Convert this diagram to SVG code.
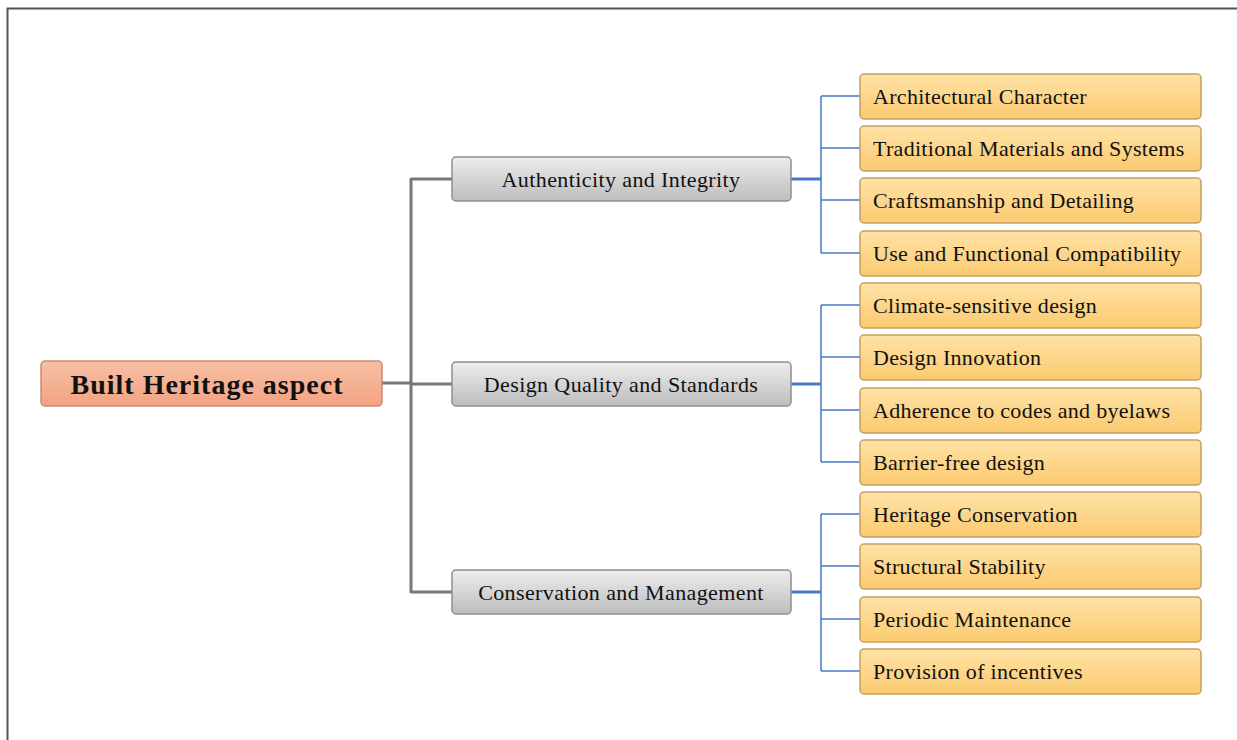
<svg xmlns="http://www.w3.org/2000/svg" width="1237" height="740" viewBox="0 0 1237 740">
<defs>
<linearGradient id="gRoot" x1="0" y1="0" x2="0" y2="1"><stop offset="0" stop-color="#F8C0A6"/><stop offset="1" stop-color="#F3A282"/></linearGradient>
<linearGradient id="gMid" x1="0" y1="0" x2="0" y2="1"><stop offset="0" stop-color="#EDEDED"/><stop offset="1" stop-color="#BDBDBD"/></linearGradient>
<linearGradient id="gLeaf" x1="0" y1="0" x2="0" y2="1"><stop offset="0" stop-color="#FFE2A6"/><stop offset="1" stop-color="#FBCA70"/></linearGradient>
<style>
.root rect{fill:url(#gRoot);stroke:#C98C74;stroke-width:1.5}
.mid rect{fill:url(#gMid);stroke:#8E8E8E;stroke-width:1.5}
.leaf rect{fill:url(#gLeaf);stroke:#C4A063;stroke-width:1.5}
text{font-family:"Liberation Serif","Times New Roman",serif;fill:#111}
.root text{font-size:28px;font-weight:bold;text-anchor:middle;letter-spacing:1px}
.mid text{font-size:22px;text-anchor:middle;letter-spacing:0.4px}
.leaf text{font-size:22px;letter-spacing:0.3px}
.gray{stroke:#777;stroke-width:3;fill:none}
.blue{stroke:#4A78C8;stroke-width:1.5;fill:none}
.blueT{stroke:#4A78C8;stroke-width:3;fill:none}
</style>
</defs>
<rect x="0" y="0" width="1237" height="740" fill="#fff"/>
<path d="M7.5 750 V8.5 H1250" fill="none" stroke="#555" stroke-width="2"/>
<g id="connectors">
<path class="gray" d="M382 383 H411 M411 178 V593 M411 179 H452 M411 384 H452 M411 592 H452"/>
<path class="blueT" d="M791 179 H821 M791 384 H821 M791 592 H821"/>
<path class="blue" d="M821 96 V253 M821 96 H860 M821 148 H860 M821 200 H860 M821 253 H860"/>
<path class="blue" d="M821 305 V462 M821 305 H860 M821 357 H860 M821 410 H860 M821 462 H860"/>
<path class="blue" d="M821 514 V671 M821 514 H860 M821 566 H860 M821 619 H860 M821 671 H860"/>
</g>
<g id="root" class="root"><rect x="41" y="361" width="341" height="45" rx="4"/><text x="207" y="394">Built Heritage aspect</text></g>
<g id="mid1" class="mid"><rect x="452" y="157" width="339" height="44" rx="4"/><text x="621" y="187">Authenticity and Integrity</text></g>
<g id="mid2" class="mid"><rect x="452" y="362" width="339" height="44" rx="4"/><text x="621" y="392">Design Quality and Standards</text></g>
<g id="mid3" class="mid"><rect x="452" y="570" width="339" height="44" rx="4"/><text x="621" y="600">Conservation and Management</text></g>
<g id="leaf1" class="leaf"><rect x="860" y="74" width="341" height="45" rx="4"/><text x="873" y="104">Architectural Character</text></g>
<g id="leaf2" class="leaf"><rect x="860" y="126" width="341" height="45" rx="4"/><text x="873" y="156">Traditional Materials and Systems</text></g>
<g id="leaf3" class="leaf"><rect x="860" y="178" width="341" height="45" rx="4"/><text x="873" y="208">Craftsmanship and Detailing</text></g>
<g id="leaf4" class="leaf"><rect x="860" y="231" width="341" height="45" rx="4"/><text x="873" y="261">Use and Functional Compatibility</text></g>
<g id="leaf5" class="leaf"><rect x="860" y="283" width="341" height="45" rx="4"/><text x="873" y="313">Climate-sensitive design</text></g>
<g id="leaf6" class="leaf"><rect x="860" y="335" width="341" height="45" rx="4"/><text x="873" y="365">Design Innovation</text></g>
<g id="leaf7" class="leaf"><rect x="860" y="388" width="341" height="45" rx="4"/><text x="873" y="418">Adherence to codes and byelaws</text></g>
<g id="leaf8" class="leaf"><rect x="860" y="440" width="341" height="45" rx="4"/><text x="873" y="470">Barrier-free design</text></g>
<g id="leaf9" class="leaf"><rect x="860" y="492" width="341" height="45" rx="4"/><text x="873" y="522">Heritage Conservation</text></g>
<g id="leaf10" class="leaf"><rect x="860" y="544" width="341" height="45" rx="4"/><text x="873" y="574">Structural Stability</text></g>
<g id="leaf11" class="leaf"><rect x="860" y="597" width="341" height="45" rx="4"/><text x="873" y="627">Periodic Maintenance</text></g>
<g id="leaf12" class="leaf"><rect x="860" y="649" width="341" height="45" rx="4"/><text x="873" y="679">Provision of incentives</text></g>
</svg>
